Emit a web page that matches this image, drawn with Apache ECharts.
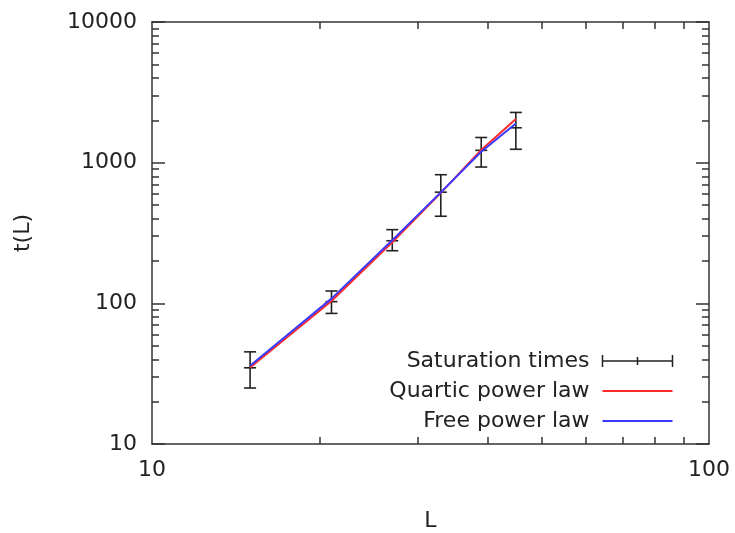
<!DOCTYPE html>
<html>
<head>
<meta charset="utf-8">
<script src="https://cdn.jsdelivr.net/npm/echarts@6/dist/echarts.min.js"></script>
<style>
  html, body { margin: 0; padding: 0; background: #fff; }
  #chart { width: 735px; height: 533px; }
</style>
</head>
<body>
<div id="chart"></div>
<script>
// system sizes and measured saturation times
const sizes = [15, 21, 27, 33, 39, 45];
const satTimes = [34.8, 102.8, 278.6, 617, 1224, 1770];
const satLow = [25.0, 84.8, 236.6, 416, 931, 1245];
const satHigh = [45.2, 122.4, 334, 821, 1510, 2276];

// fitted curves
const quarticFit = [35, 104, 272, 610, 1230, 2040];
const freeFit = [36, 108, 281, 615, 1195, 1900];

// minor tick positions
const xMinorTicks = [20, 30, 40, 50, 60, 70, 80, 90];
const yMinorTicks = [20, 30, 40, 50, 60, 70, 80, 90,
  200, 300, 400, 500, 600, 700, 800, 900,
  2000, 3000, 4000, 5000, 6000, 7000, 8000, 9000];

const FONT = "DejaVu Sans";
const INK = "#222";
const FRAME = "#333";
const RED = "#ff2a2a";
const BLUE = "#3a3aff";

const chart = echarts.init(document.getElementById("chart"));

const errData = sizes.map((L, i) => [L, satTimes[i], satLow[i], satHigh[i]]);

const baseX = {
  type: "log", logBase: 10, min: 10, max: 100,
  splitLine: { show: false },
  minorTick: { show: false }
};
const baseY = {
  type: "log", logBase: 10, min: 10, max: 10000,
  splitLine: { show: false },
  minorTick: { show: false }
};

chart.setOption({
  animation: false,
  backgroundColor: "#fff",
  textStyle: { fontFamily: FONT },
  grid: { left: 152, right: 26, top: 22, bottom: 89, containLabel: false, outerBoundsMode: "none" },
  legend: {
    orient: "vertical",
    right: 55,
    top: 345,
    align: "right",
    itemWidth: 70,
    itemHeight: 12,
    itemGap: 8,
    textStyle: { fontFamily: FONT, fontSize: 22, color: INK, lineHeight: 22, padding: [0, 8, 0, 0] },
    data: [
      {
        name: "Saturation times",
        icon: "path://M0,6L70,6M0,0L0,12M35,2L35,10M70,0L70,12",
        itemStyle: { color: "none", borderColor: INK, borderWidth: 1.5 }
      },
      { name: "Quartic power law", itemStyle: { color: "rgba(0,0,0,0)", borderWidth: 0 } },
      { name: "Free power law", itemStyle: { color: "rgba(0,0,0,0)", borderWidth: 0 } }
    ]
  },
  xAxis: [
    Object.assign({}, baseX, {
      position: "bottom",
      name: "L",
      nameLocation: "middle",
      nameGap: 66,
      nameTextStyle: { fontFamily: FONT, fontSize: 22, color: INK },
      axisLine: { show: true, lineStyle: { color: FRAME, width: 1.5 } },
      axisTick: { show: true, inside: true, length: 7, customValues: xMinorTicks, lineStyle: { color: FRAME, width: 1.5 } },
      axisLabel: { fontFamily: FONT, fontSize: 22, color: INK, margin: 15, formatter: (v) => String(v) }
    }),
    Object.assign({}, baseX, {
      position: "top",
      axisLine: { show: true, lineStyle: { color: FRAME, width: 1.5 } },
      axisTick: { show: true, inside: true, length: 7, customValues: xMinorTicks, lineStyle: { color: FRAME, width: 1.5 } },
      axisLabel: { show: false }
    })
  ],
  yAxis: [
    Object.assign({}, baseY, {
      position: "left",
      name: "t(L)",
      nameLocation: "middle",
      nameGap: 118,
      nameTextStyle: { fontFamily: FONT, fontSize: 22, color: INK },
      axisLine: { show: true, lineStyle: { color: FRAME, width: 1.5 } },
      axisTick: { show: true, inside: true, length: 13, lineStyle: { color: FRAME, width: 1.5 } },
      axisLabel: { fontFamily: FONT, fontSize: 22, color: INK, margin: 15, formatter: (v) => String(v) }
    }),
    Object.assign({}, baseY, {
      position: "left",
      axisLine: { show: false },
      axisTick: { show: true, inside: true, length: 7, customValues: yMinorTicks, lineStyle: { color: FRAME, width: 1.5 } },
      axisLabel: { show: false }
    }),
    Object.assign({}, baseY, {
      position: "right",
      axisLine: { show: true, lineStyle: { color: FRAME, width: 1.5 } },
      axisTick: { show: true, inside: true, length: 13, lineStyle: { color: FRAME, width: 1.5 } },
      axisLabel: { show: false }
    }),
    Object.assign({}, baseY, {
      position: "right",
      axisLine: { show: false },
      axisTick: { show: true, inside: true, length: 7, customValues: yMinorTicks, lineStyle: { color: FRAME, width: 1.5 } },
      axisLabel: { show: false }
    })
  ],
  series: [
    {
      name: "Saturation times",
      type: "custom",
      xAxisIndex: 0,
      yAxisIndex: 0,
      encode: { x: 0, y: [1, 2, 3] },
      itemStyle: { color: INK },
      data: errData,
      renderItem: (params, api) => {
        const x = api.value(0);
        const mid = api.coord([x, api.value(1)]);
        const lo = api.coord([x, api.value(2)]);
        const hi = api.coord([x, api.value(3)]);
        const w = 6;
        const st = { stroke: INK, lineWidth: 1.6 };
        return {
          type: "group",
          children: [
            { type: "line", shape: { x1: mid[0], y1: hi[1], x2: mid[0], y2: lo[1] }, style: st },
            { type: "line", shape: { x1: mid[0] - w, y1: hi[1], x2: mid[0] + w, y2: hi[1] }, style: st },
            { type: "line", shape: { x1: mid[0] - w, y1: lo[1], x2: mid[0] + w, y2: lo[1] }, style: st },
            { type: "line", shape: { x1: mid[0] - w, y1: mid[1], x2: mid[0] + w, y2: mid[1] }, style: st }
          ]
        };
      }
    },
    {
      name: "Quartic power law",
      type: "line",
      xAxisIndex: 0,
      yAxisIndex: 0,
      symbol: "none",
      data: sizes.map((L, i) => [L, quarticFit[i]]),
      lineStyle: { color: RED, width: 2 },
      itemStyle: { color: RED }
    },
    {
      name: "Free power law",
      type: "line",
      xAxisIndex: 0,
      yAxisIndex: 0,
      symbol: "none",
      data: sizes.map((L, i) => [L, freeFit[i]]),
      lineStyle: { color: BLUE, width: 2 },
      itemStyle: { color: BLUE }
    }
  ]
});
</script>
</body>
</html>
